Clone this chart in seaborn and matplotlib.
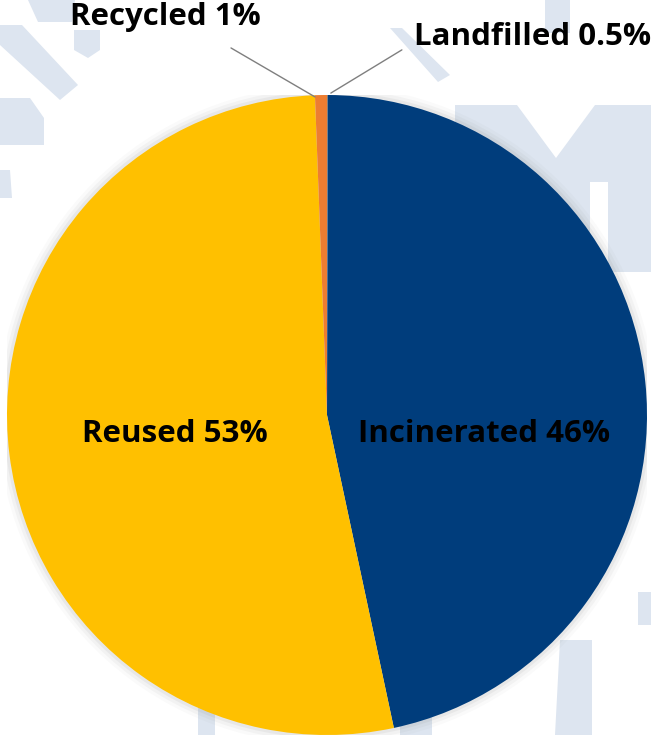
import matplotlib
matplotlib.use('Agg')
import matplotlib.pyplot as plt
import seaborn as sns
from matplotlib.patches import Polygon

# slices, clockwise from 12 o'clock
categories = ['Landfilled', 'Incinerated', 'Reused', 'Recycled']
shares = [0.05, 46.6, 52.75, 0.6]
pct_labels = ['0.5%', '46%', '53%', '1%']
colors = ['#7f7f7f', '#003d7c', '#ffc000', '#ed7d31']

sns.set_theme(style='white')
plt.rcParams['font.family'] = ['Open Sans', 'DejaVu Sans']

W, H = 651, 735
fig = plt.figure(figsize=(W / 100, H / 100), dpi=100)

# faint watermark behind the chart (pixel coordinates)
bg = fig.add_axes([0, 0, 1, 1])
bg.set_xlim(0, W)
bg.set_ylim(H, 0)
bg.axis('off')
wm = '#dde5f0'
shapes = [
    [(0, 25), (22, 25), (78, 85), (60, 100), (0, 45)],
    [(0, 98), (30, 98), (44, 118), (44, 145), (0, 145)],
    [(28, 0), (75, 0), (72, 22), (38, 22)],
    [(74, 30), (100, 30), (100, 50), (88, 58), (74, 50)],
    [(0, 170), (10, 170), (12, 198), (0, 198)],
    [(390, 28), (402, 28), (450, 75), (438, 82)],
    [(545, 0), (570, 0), (570, 33), (545, 33)],
    [(455, 105), (517, 105), (556, 158), (595, 105), (651, 105),
     (651, 272), (608, 272), (608, 182), (590, 182), (590, 272),
     (455, 272)],
    [(560, 640), (592, 640), (592, 735), (555, 735)],
    [(198, 705), (215, 705), (215, 735), (198, 735)],
    [(400, 715), (432, 715), (432, 735), (400, 735)],
    [(638, 592), (651, 592), (651, 625), (638, 625)],
]
for pts in shapes:
    bg.add_patch(Polygon(pts, closed=True, facecolor=wm, edgecolor='none'))

# pie axes: centre at (327, 415) px, radius 320 px
cx, cy, r = 327, 415, 320
ax = fig.add_axes([(cx - r) / W, (H - cy - r) / H, 2 * r / W, 2 * r / H])

# soft halo like the original shading
for k, a in zip([1.03, 1.02, 1.01], [0.04, 0.06, 0.09]):
    ax.add_patch(plt.Circle((0, 0), k, color='#808080', alpha=a, lw=0))

ax.pie(shares, colors=colors, startangle=90, counterclock=False,
       radius=1, center=(0, 0), frame=False,
       wedgeprops=dict(linewidth=0))
ax.set_xlim(-1, 1)
ax.set_ylim(-1, 1)
ax.set_aspect('equal')
ax.axis('off')

txt = dict(fontsize=22.5, fontweight='bold', color='black',
           ha='center', va='center')
ax.text(-0.474, -0.058, f'Reused {pct_labels[2]}', **txt)
ax.text(0.491, -0.058, f'Incinerated {pct_labels[1]}', **txt)
ax.text(-0.506, 1.245, f'Recycled {pct_labels[3]}', **txt)
ax.text(0.641, 1.180, f'Landfilled {pct_labels[0]}', **txt)

# leader lines
ax.plot([-0.300, -0.0375], [1.147, 0.994], color='#7f7f7f', lw=1,
        clip_on=False)
ax.plot([0.234, 0.012], [1.141, 1.006], color='#7f7f7f', lw=1,
        clip_on=False)

fig.savefig('out.png', dpi=100)
